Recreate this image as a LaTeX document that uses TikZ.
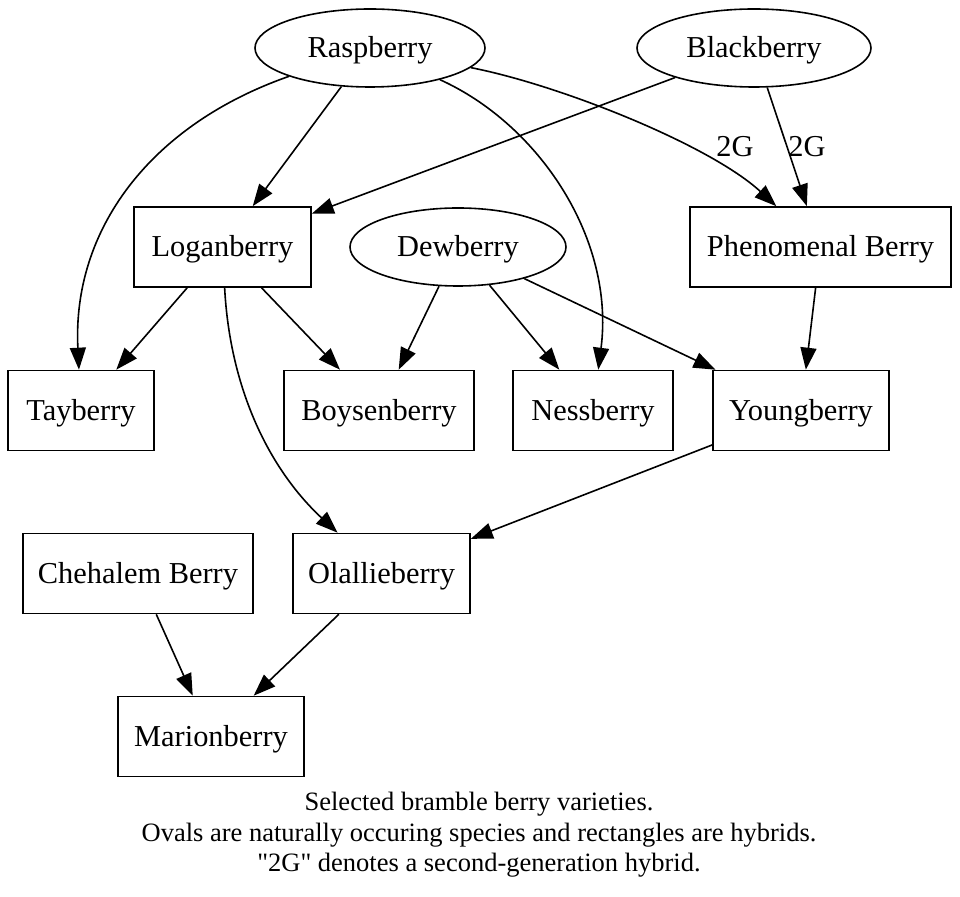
\documentclass[tikz,border=0pt]{standalone}
\usepackage{fontspec}
\setmainfont{Liberation Serif}[Ligatures=TeXOff]
\usetikzlibrary{arrows.meta,shapes.geometric}

\tikzset{
  species/.style={draw, ellipse, line width=0.8pt, inner sep=0pt, minimum height=39pt, text height=11pt, text depth=1pt},
  hybrid/.style={draw, rectangle, line width=0.8pt, inner sep=0pt, minimum height=40pt, text height=11pt, text depth=1pt},
  cross/.style={line width=0.8pt, -{Triangle[length=11pt,width=8pt]}},
}

\begin{document}
\begin{tikzpicture}[x=0.5pt, y=-0.5pt, font=\fontsize{15.2}{18}\selectfont]

\useasboundingbox (0,0) rectangle (960,897);

% wild species
\node[species, minimum width=115pt] (rasp) at (370,48) {Raspberry};
\node[species, minimum width=117pt] (black) at (754,48) {Blackberry};
\node[species, minimum width=108pt] (dew) at (458,247) {Dewberry};

% hybrids
\node[hybrid, minimum width=88.5pt] (logan) at (222.5,247) {Loganberry};
\node[hybrid, minimum width=130.5pt] (pheno) at (820.5,247) {Phenomenal Berry};
\node[hybrid, minimum width=73pt] (tay) at (81,410.5) {Tayberry};
\node[hybrid, minimum width=95pt] (boysen) at (379,410.5) {Boysenberry};
\node[hybrid, minimum width=80pt] (ness) at (593,410.5) {Nessberry};
\node[hybrid, minimum width=88pt] (young) at (801,410.5) {Youngberry};
\node[hybrid, minimum width=115pt] (chehalem) at (138,573.5) {Chehalem Berry};
\node[hybrid, minimum width=88.5pt] (olallie) at (381.5,573.5) {Olallieberry};
\node[hybrid, minimum width=93pt] (marion) at (211,736.5) {Marionberry};

% labels
\node[text height=11pt, text depth=1pt] (lblA) at (735,147) {2G};
\node[text height=11pt, text depth=1pt] (lblB) at (807,147) {2G};

% crosses
\draw[cross] (rasp) .. controls (150,125) and (72,230) .. (tay);
\draw[cross] (rasp) -- (logan);
\draw[cross] (rasp) .. controls (560,85) and (710,145) .. (pheno);
\draw[cross] (rasp) .. controls (540,125) and (615,240) .. (ness);
\draw[cross] (black) -- (logan);
\draw[cross] (black) -- (pheno);
\draw[cross] (logan) -- (tay);
\draw[cross] (logan) -- (boysen);
\draw[cross] (logan) .. controls (230,390) and (270,470) .. (olallie);
\draw[cross] (dew) -- (boysen);
\draw[cross] (dew) -- (ness);
\draw[cross] (dew) -- (young);
\draw[cross] (pheno) -- (young);
\draw[cross] (young) -- (olallie);
\draw[cross] (chehalem) -- (marion);
\draw[cross] (olallie) -- (marion);

\node[align=center, font=\fontsize{13.25}{15.2}\selectfont] (caption) at (479,835)
  {Selected bramble berry varieties.\\
   Ovals are naturally occuring species and rectangles are hybrids.\\
   "2G" denotes a second-generation hybrid.};

\end{tikzpicture}
\end{document}
